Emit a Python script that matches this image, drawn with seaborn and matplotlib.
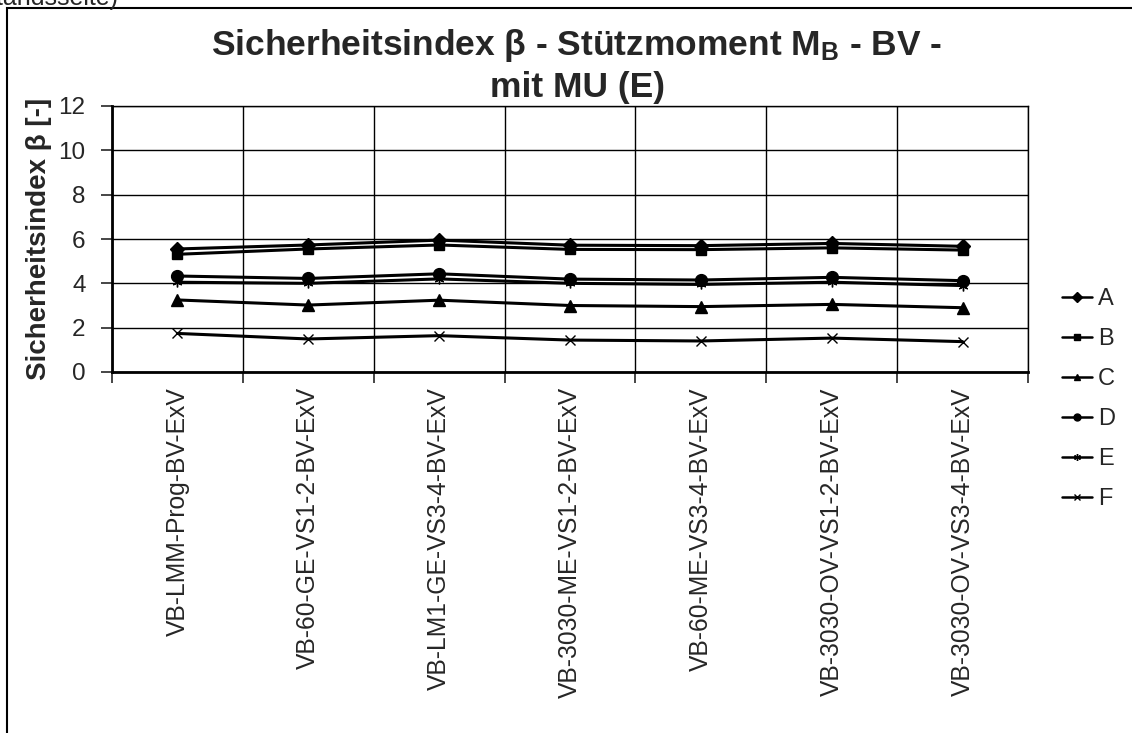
import numpy as np
import pandas as pd
import matplotlib
matplotlib.use("Agg")
import matplotlib.pyplot as plt
import seaborn as sns
from matplotlib.patches import Rectangle
from matplotlib.ticker import FixedLocator

# ---------- Data ----------
categories = ["VB-LMM-Prog-BV-ExV", "VB-60-GE-VS1-2-BV-ExV", "VB-LM1-GE-VS3-4-BV-ExV",
              "VB-3030-ME-VS1-2-BV-ExV", "VB-60-ME-VS3-4-BV-ExV", "VB-3030-OV-VS1-2-BV-ExV",
              "VB-3030-OV-VS3-4-BV-ExV"]
series_names = ["A", "B", "C", "D", "E", "F"]
beta_A = [5.55, 5.73, 5.95, 5.72, 5.70, 5.80, 5.67]
beta_B = [5.31, 5.55, 5.73, 5.53, 5.52, 5.60, 5.50]
beta_C = [3.25, 3.02, 3.24, 3.00, 2.95, 3.05, 2.90]
beta_D = [4.33, 4.22, 4.43, 4.19, 4.15, 4.27, 4.12]
beta_E = [4.05, 4.00, 4.20, 4.00, 3.95, 4.05, 3.90]
beta_F = [1.74, 1.49, 1.64, 1.44, 1.40, 1.53, 1.37]
y_ticks = [0, 2, 4, 6, 8, 10, 12]

title_txt = "Sicherheitsindex β - Stützmoment $\\mathbf{M_B}$ - BV -\nmit MU (E)"
ylabel_txt = "Sicherheitsindex β [-]"

all_vals = [beta_A, beta_B, beta_C, beta_D, beta_E, beta_F]
df = pd.DataFrame({
    "pos": np.tile(np.arange(len(categories)), len(series_names)),
    "beta": np.concatenate(all_vals),
    "Serie": np.repeat(series_names, len(categories)),
})

# ---------- Style ----------
sns.set_style("white")
plt.rcParams["font.family"] = ["Liberation Sans", "DejaVu Sans"]
plt.rcParams["mathtext.fontset"] = "custom"
plt.rcParams["mathtext.rm"] = "Liberation Sans"
plt.rcParams["mathtext.bf"] = "Liberation Sans:bold"

fig = plt.figure(figsize=(11.32, 7.33), dpi=100)
ax = fig.add_axes([112/1132, 1 - 372/733, (1028 - 112)/1132, (372 - 106)/733])

markers = {"A": "D", "B": "s", "C": "^", "D": "o", "E": (6, 2, 0), "F": "x"}
msize = {"A": 7, "B": 7, "C": 8, "D": 8.5, "E": 7, "F": 7}
for s in series_names:
    sub = df[df["Serie"] == s]
    sns.lineplot(data=sub, x="pos", y="beta", ax=ax, color="black", lw=2.2,
                 marker=markers[s], markersize=msize[s], markeredgecolor="black",
                 markerfacecolor="black", markeredgewidth=1.0, label=s, zorder=3)

ax.set_xlim(-0.5, len(categories) - 0.5)
ax.set_ylim(0, 12)
ax.set_yticks(y_ticks)
ax.set_yticklabels([str(t) for t in y_ticks], fontsize=17.5)
ax.xaxis.set_major_locator(FixedLocator(np.arange(len(categories))))
ax.set_xticklabels(categories, rotation=90, fontsize=17.7, va="top", ha="center")
ax.xaxis.set_minor_locator(FixedLocator(np.arange(-0.5, len(categories), 1.0)))
ax.tick_params(axis="x", which="major", length=0, pad=11)
ax.tick_params(axis="x", which="minor", length=8, width=1.2, direction="out", bottom=True)
ax.tick_params(axis="y", which="major", length=8, width=1.2, direction="out", left=True, pad=11)

ax.grid(axis="y", which="major", color="black", lw=1.0)
ax.grid(axis="x", which="minor", color="black", lw=1.0)
ax.grid(axis="x", which="major", visible=False)
for side in ["top", "right"]:
    ax.spines[side].set_linewidth(1.0)
    ax.spines[side].set_color("black")
for side in ["left", "bottom"]:
    ax.spines[side].set_linewidth(2.0)
    ax.spines[side].set_color("black")

ax.set_xlabel("")
ax.set_ylabel(ylabel_txt, fontsize=20, fontweight="bold", labelpad=5)

fig.text(577/1132, 1 - 27/733, title_txt, ha="center", va="top",
         fontsize=25.5, fontweight="bold", linespacing=1.28)

leg = ax.legend(loc="upper left", bbox_to_anchor=(1053/1132, 1 - 279/733),
                bbox_transform=fig.transFigure, frameon=False, fontsize=17,
                handlelength=1.25, handletextpad=0.25, labelspacing=0.76,
                borderaxespad=0)
for h in leg.legend_handles:
    h.set_markersize(5)
    h.set_linewidth(1.8)

# chart frame and cut-off caption at the top
fig.add_artist(Rectangle((7/1132, -0.2), 1.2, 1.2 - 8/733, transform=fig.transFigure,
                         fill=False, lw=1.5, edgecolor="black"))
fig.text(118/1132, 1 - 5/733, "(Widerstandsseite)", ha="right", va="baseline", fontsize=18)

fig.savefig("out.png", dpi=100)
